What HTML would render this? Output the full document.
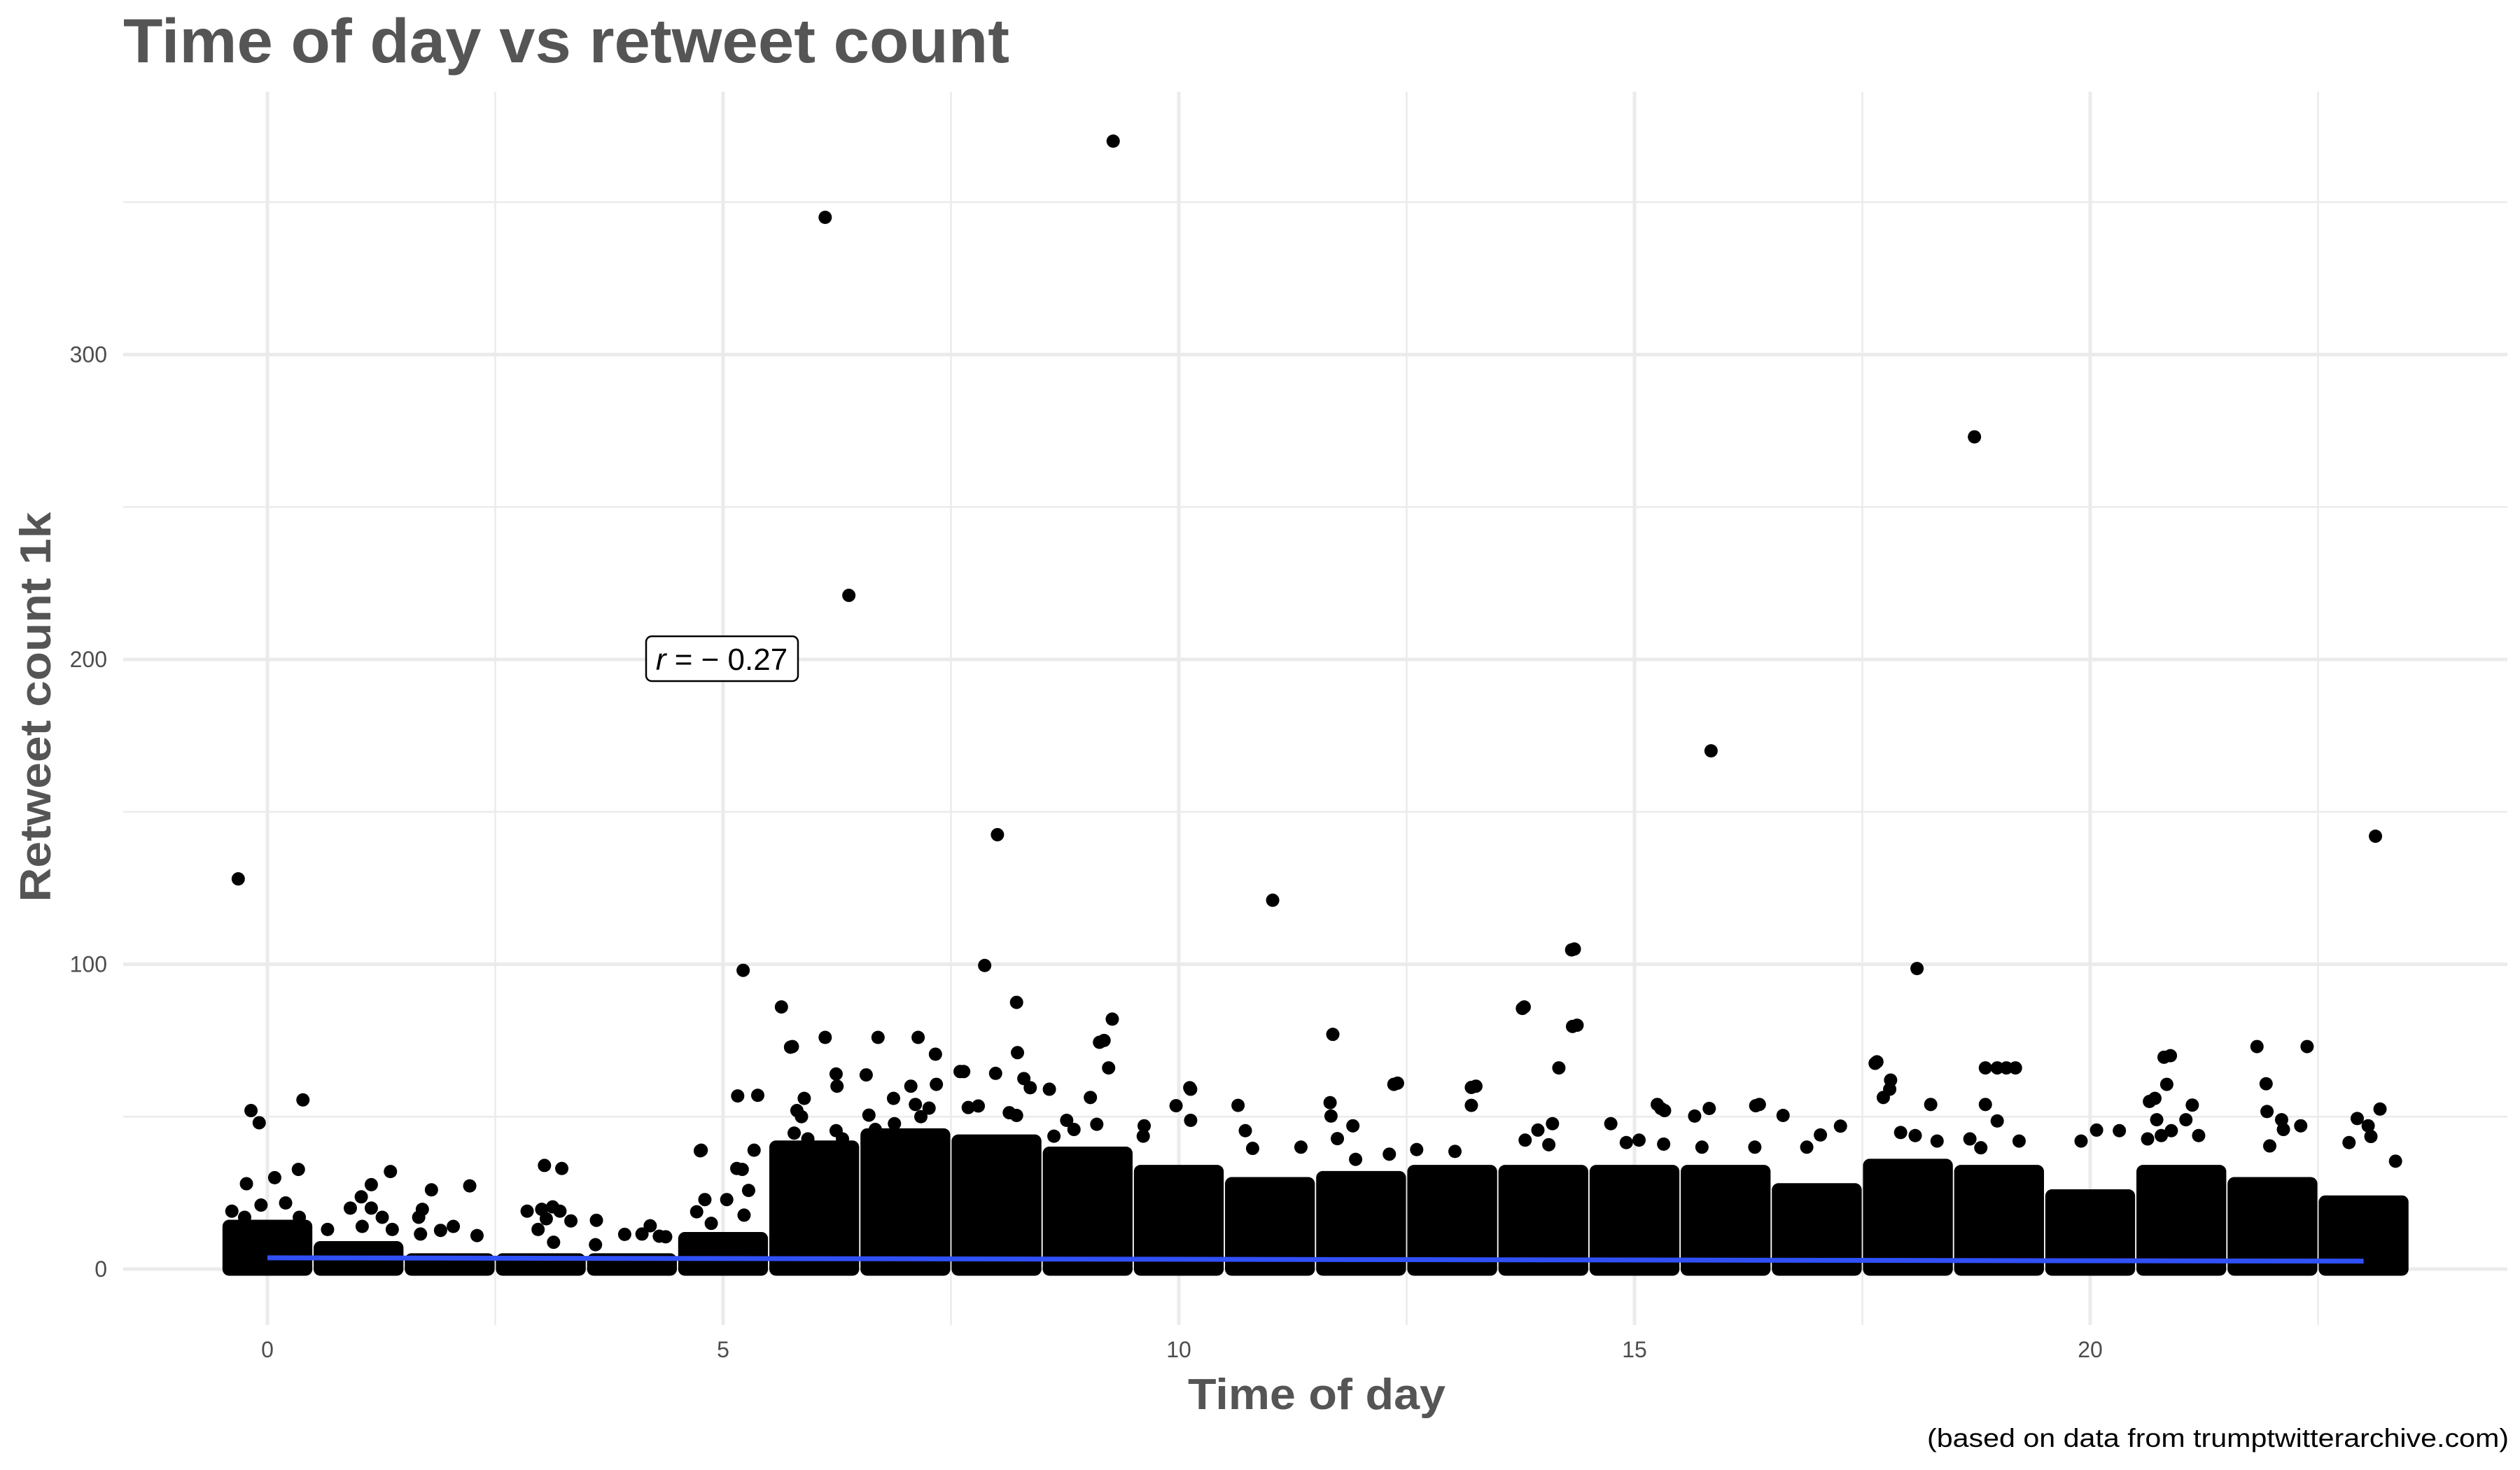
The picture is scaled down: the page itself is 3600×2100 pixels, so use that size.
<!DOCTYPE html>
<html><head><meta charset="utf-8"><style>
html,body{margin:0;padding:0;background:#fff;}
svg{display:block;}
</style></head><body>
<svg id="chart" width="3600" height="2100" viewBox="0 0 3600 2100" xmlns="http://www.w3.org/2000/svg">
<rect x="0" y="0" width="3600" height="2100" fill="#fff"/>
<g id="grid"></g>
<g id="bands"></g>
<g id="points"></g>
<g id="trend"></g>
<g id="axes"></g>
<g>
<rect x="923" y="909" width="217" height="64" rx="8" fill="#fff" stroke="#000" stroke-width="2.5"/>
<text x="1031" y="957" text-anchor="middle" font-family="Liberation Sans, sans-serif" font-size="44" fill="#000"><tspan font-style="italic">r</tspan> = − 0.27</text>
</g>
<text x="176" y="89" font-family="Liberation Sans, sans-serif" font-weight="bold" font-size="89" fill="#555" textLength="1266" lengthAdjust="spacingAndGlyphs">Time of day vs retweet count</text>
<text x="1881" y="2013" text-anchor="middle" font-family="Liberation Sans, sans-serif" font-weight="bold" font-size="62" fill="#555" textLength="368" lengthAdjust="spacingAndGlyphs">Time of day</text>
<text transform="translate(72,1010) rotate(-90)" text-anchor="middle" font-family="Liberation Sans, sans-serif" font-weight="bold" font-size="62" fill="#555" textLength="557" lengthAdjust="spacingAndGlyphs">Retweet count 1k</text>
<text x="3584" y="2067" text-anchor="end" font-family="Liberation Sans, sans-serif" font-size="37" fill="#000" textLength="831" lengthAdjust="spacingAndGlyphs">(based on data from trumptwitterarchive.com)</text>
</svg>
<script>
const xTicks = [0, 5, 10, 15, 20];
const xTickLabels = ["0", "5", "10", "15", "20"];
const xMinor = [2.5, 7.5, 12.5, 17.5, 22.5];
const yTicks = [0, 100, 200, 300];
const yTickLabels = ["0", "100", "200", "300"];
const yMinor = [50, 150, 250, 350];
const hours = [0,1,2,3,4,5,6,7,8,9,10,11,12,13,14,15,16,17,18,19,20,21,22,23];
const bandTop = [14,7,3,3,3,10,40,44,42,38,32,28,30,32,32,32,32,26,34,32,24,32,28,22];
const trendX = [0, 23];
const trendY = [3.7, 2.6];
const pointsX = [6.12,9.28,6.38,18.73,15.84,8.01,23.13,11.03,-0.32,14.34,18.1,7.87,5.22,11.69,13.79,14.37,5.64,8.22,22.38,20.88,17.66,0.39,-0.18,-0.09,6.7,6.12,7.14,5.76,9.27,9.18,13.26,12.4,10.13,18.98,19.18,15.33,16.37,5.38,4.76,
-0.23,0.08,0.34,-0.07,0.2,-0.39,-0.25,0.35,
1.35,1.14,1.03,0.91,1.14,1.26,1.37,0.66,1.04,
1.8,2.22,1.7,1.66,1.9,2.04,2.3,1.68,
3.04,3.23,2.85,3.01,3.13,3.21,3.06,3.33,2.97,3.14,
3.61,3.92,4.2,4.3,4.37,3.6,4.11,
4.75,5.34,5.16,5.04,4.8,5.28,5.15,5.21,4.71,4.87,5.23,
5.74,6.24,6.25,5.89,5.81,5.86,5.78,5.93,6.24,6.31,
7.33,7.6,6.57,7.34,7.06,6.87,7.11,7.26,7.17,6.6,6.88,6.67,6.74,7.36,
8.23,9.13,9.23,7.64,7.99,8.3,8.37,8.58,9.03,7.69,7.8,8.14,8.22,8.77,9.1,8.63,8.85,9.62,9.61,
10.12,9.97,10.13,10.65,10.73,10.81,11.34,11.66,11.67,11.91,11.74,11.94,12.36,12.31,
13.77,14.32,14.31,14.17,13.21,13.21,14.1,13.94,13.8,14.06,13.03,12.61,
15.25,15.29,14.74,14.91,15.05,15.32,15.66,15.82,15.74,
17.64,17.81,17.8,17.73,18.25,18.85,19.08,18.85,18.98,16.33,16.63,17.26,17.04,16.89,16.32,17.92,18.08,18.32,18.68,18.8,19.22,
21.83,21.93,21.94,22.1,22.31,22.12,20.81,20.84,20.71,20.65,21.12,20.73,21.05,20.89,20.78,21.19,20.63,20.07,20.32,19.9,
23.18,22.93,23.05,23.08,22.84,23.35,21.97];
const pointsY = [345,370,221,273,170,142.5,142,121,128,105,98.6,99.6,98,77,86,80,86,87.5,73,70,68,55.5,52,48,76,76,76,73,82,75,60,61,59,66,66,52,54,57,39,
28,30,32.7,21,21.7,19,17,17,
32,27.7,23.7,20,20,17,13,13,14,
26,27.3,19.6,17,12.7,14,11,11.5,
34,33,19,19.6,20.4,19,16.5,15.8,13,8.8,
16,11.4,14.2,10.8,10.6,8,11.5,
38.8,39,56.8,22.8,22.8,25.8,33,32.7,18.8,15,17.7,
72.8,64,60,56,52,50,44.6,42.7,45.4,42.7,
70.5,64.8,63.7,60.6,60,56,54,52.8,50,50.5,47.7,45.8,43,30.5,
71,74.4,66,64.8,64.2,62.5,59.5,59,56.3,53,53.5,51.3,50.4,48.8,47.5,43.6,45.8,47,43.6,
59.5,53.6,48.8,53.7,45.4,39.6,40,54.6,50.2,47,42.8,36,60.6,37.7,
85.5,79.6,104.7,66,59.6,53.7,47.7,45.6,42.3,40.8,38.6,39.2,
54,52.7,47.7,41.5,42.3,41,50.2,52.7,40,
67.5,62,59,56.3,54,66,66,54,48.6,53.6,50.4,46.9,44,40,40,44.8,43.8,42,42.7,39.8,42,
73,60.8,51.7,49,47,45.8,69.5,60.6,56,55,53.8,49,49,45.4,43.8,43.8,42.7,45.6,45.4,42,
52.5,49.4,47,43.5,41.5,35.4,40.4];

const NS = "http://www.w3.org/2000/svg";
const X0 = 382, XS = 130.2, Y0 = 1813, YS = 4.355;
const PL = 176, PR = 3582, PT = 131, PB = 1893;
const R = 9.5;
function sx(v){ return X0 + v * XS; }
function sy(v){ return Y0 - v * YS; }
function mk(tag, attrs, parent){
  const el = document.createElementNS(NS, tag);
  for (const k in attrs) el.setAttribute(k, attrs[k]);
  parent.appendChild(el);
  return el;
}
const grid = document.getElementById("grid");
yMinor.forEach(v => {
  const l = mk("line", {x1: PL, x2: PR, y1: sy(v), y2: sy(v), stroke: "#ebebeb", "stroke-width": 2.5}, grid);
  
  
});
xMinor.forEach(v => {
  const l = mk("line", {x1: sx(v), x2: sx(v), y1: PT, y2: PB, stroke: "#ebebeb", "stroke-width": 2.5}, grid);
  
  
});
yTicks.forEach(v => {
  const l = mk("line", {x1: PL, x2: PR, y1: sy(v), y2: sy(v), stroke: "#ebebeb", "stroke-width": 5}, grid);
  
  
});
xTicks.forEach(v => {
  const l = mk("line", {x1: sx(v), x2: sx(v), y1: PT, y2: PB, stroke: "#ebebeb", "stroke-width": 5}, grid);
  
  
});
const axes = document.getElementById("axes");
yTicks.forEach((v, i) => {
  const t = mk("text", {x: 153, y: sy(v) + 11, "text-anchor": "end", "font-family": "Liberation Sans, sans-serif", "font-size": 32, fill: "#4d4d4d"}, axes);
  t.textContent = yTickLabels[i];
  
  
});
xTicks.forEach((v, i) => {
  const t = mk("text", {x: sx(v), y: 1939, "text-anchor": "middle", "font-family": "Liberation Sans, sans-serif", "font-size": 32, fill: "#4d4d4d"}, axes);
  t.textContent = xTickLabels[i];
  
  
});
const bands = document.getElementById("bands");
hours.forEach((h, i) => {
  const x1 = sx(h - 0.42) - R, x2 = sx(h + 0.42) + R;
  const y1 = sy(bandTop[i]) - R, y2 = sy(0) + R;
  const b = mk("rect", {x: x1, y: y1, width: x2 - x1, height: y2 - y1, rx: R, fill: "#000"}, bands);
  
  
});
const pts = document.getElementById("points");
pointsX.forEach((v, i) => {
  const c = mk("circle", {cx: sx(v), cy: sy(pointsY[i]), r: R, fill: "#000"}, pts);
  
  
});
const trend = document.getElementById("trend");
const tl = mk("line", {x1: sx(trendX[0]), y1: sy(trendY[0]), x2: sx(trendX[1]), y2: sy(trendY[1]), stroke: "#3050F8", "stroke-width": 7}, trend);


</script>
</body></html>
